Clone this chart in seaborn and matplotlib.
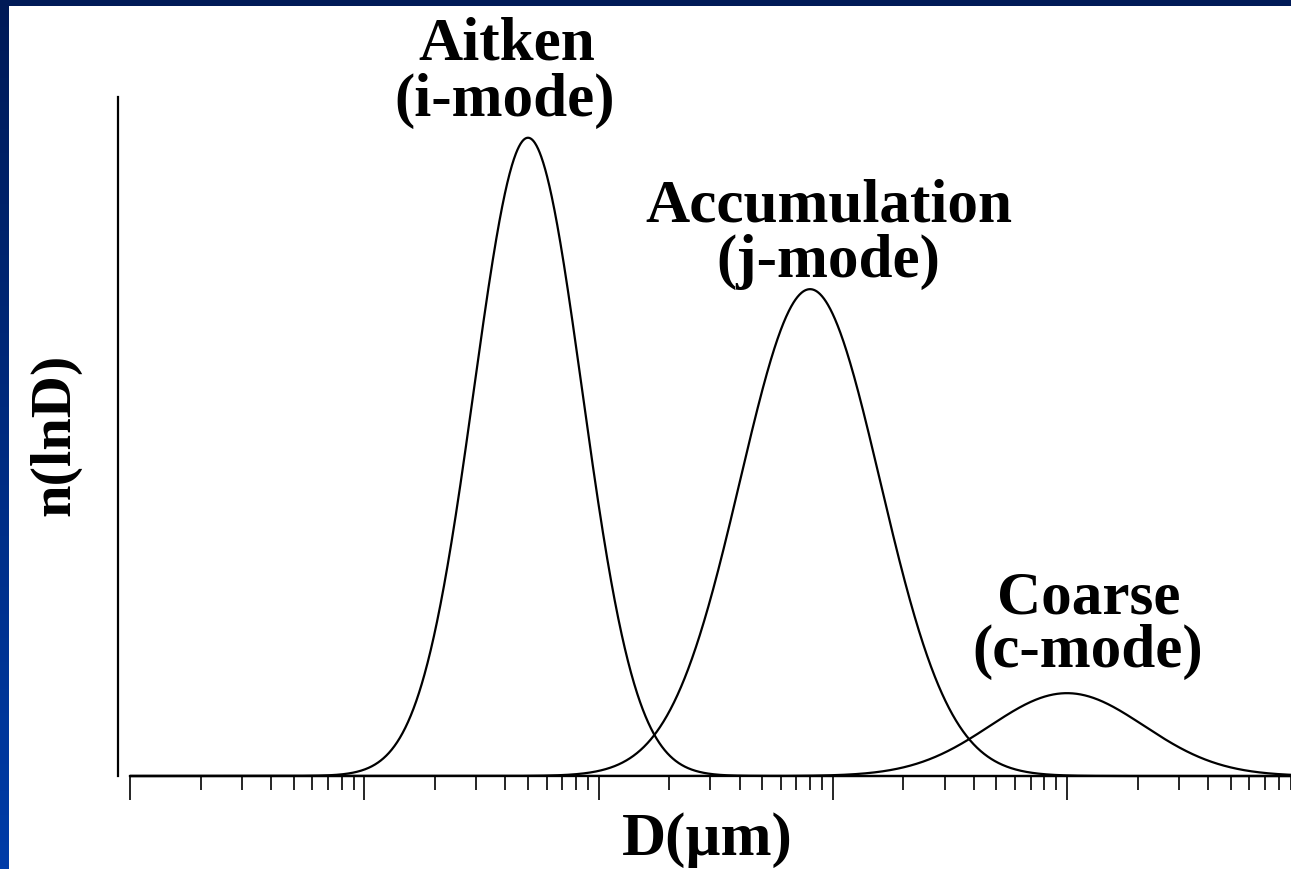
import numpy as np
import pandas as pd
import matplotlib
matplotlib.use("Agg")
import matplotlib.pyplot as plt
from matplotlib.colors import LinearSegmentedColormap
from matplotlib.patches import Rectangle
from matplotlib.ticker import LogLocator, NullFormatter
import seaborn as sns

# Aerosol size-distribution modes (lognormal)
mode_names = ["Aitken", "Accumulation", "Coarse"]
mode_tags = ["(i-mode)", "(j-mode)", "(c-mode)"]
median_diam_um = [0.05, 0.80, 10.0]   # geometric median diameter, µm
geom_std = [1.70, 1.99, 2.13]         # geometric standard deviation
peak_height = [0.94, 0.717, 0.122]    # relative n(lnD) at the mode peak

W, H = 1291, 869

sns.set_theme(style="white")
plt.rcParams["font.family"] = ["Liberation Serif", "DejaVu Serif"]
plt.rcParams["font.weight"] = "bold"

fig = plt.figure(figsize=(W / 100, H / 100), dpi=100)

# slide backdrop: blue gradient frame with a white panel
bg = fig.add_axes([0, 0, 1, 1], zorder=-10)
slide_cmap = LinearSegmentedColormap.from_list("slide", ["#001a57", "#003ca8"])
bg.imshow(np.linspace(0, 1, 256)[:, None], aspect="auto", cmap=slide_cmap,
          extent=[0, 1, 0, 1], origin="upper")
bg.add_patch(Rectangle((9 / W, 0), 1, (H - 6) / H, transform=bg.transAxes,
                       facecolor="white", edgecolor="none"))
bg.set_axis_off()

# plotting area (extends slightly past the right edge of the slide)
ax = fig.add_axes([130 / W, (H - 776) / H, 1171.25 / W, (776 - 97) / H])
ax.patch.set_alpha(0)

diam = np.logspace(-3, 2, 3000)
frames = []
for name, dg, sg, amp in zip(mode_names, median_diam_um, geom_std, peak_height):
    n = amp * np.exp(-(np.log10(diam / dg)) ** 2 / (2 * np.log10(sg) ** 2))
    frames.append(pd.DataFrame({"D": diam, "n": n, "mode": name}))
df = pd.concat(frames, ignore_index=True)

sns.lineplot(data=df, x="D", y="n", units="mode", estimator=None,
             color="black", linewidth=1.6, ax=ax, legend=False, clip_on=False)

ax.set_xscale("log")
ax.set_xlim(1e-3, 1e2)
ax.set_ylim(0, 1)
ax.set_xlabel("")
ax.set_ylabel("")

for side in ("top", "right"):
    ax.spines[side].set_visible(False)
for side in ("left", "bottom"):
    ax.spines[side].set_color("black")
    ax.spines[side].set_linewidth(1.6)
ax.spines["left"].set_position(("outward", 8.6))

ax.xaxis.set_major_locator(LogLocator(base=10, numticks=12))
ax.xaxis.set_minor_locator(LogLocator(base=10, subs=np.arange(2, 10), numticks=12))
ax.xaxis.set_major_formatter(NullFormatter())
ax.xaxis.set_minor_formatter(NullFormatter())
ax.tick_params(axis="x", which="major", bottom=True, direction="out",
               length=17.5, width=1.2, color="black")
ax.tick_params(axis="x", which="minor", bottom=True, direction="out",
               length=10, width=1.2, color="black")
ax.set_yticks([])


def at(x, y):
    return x / W, 1 - y / H


label_font = dict(ha="center", va="baseline", fontsize=44, fontweight="bold",
                  color="black")
name_pos = [(506.5, 60), (829, 221.5), (1089, 614)]
tag_pos = [(505, 116), (828, 277), (1088, 667)]
for name, tag, p1, p2 in zip(mode_names, mode_tags, name_pos, tag_pos):
    fig.text(*at(*p1), name, **label_font)
    fig.text(*at(*p2), tag, **label_font)

fig.text(*at(707, 855), "D(µm)", **label_font)
fig.text(*at(55, 435), "n(lnD)", rotation=90, ha="center", va="center",
         fontsize=42, fontweight="bold", color="black")

fig.savefig("out.png", dpi=100)
